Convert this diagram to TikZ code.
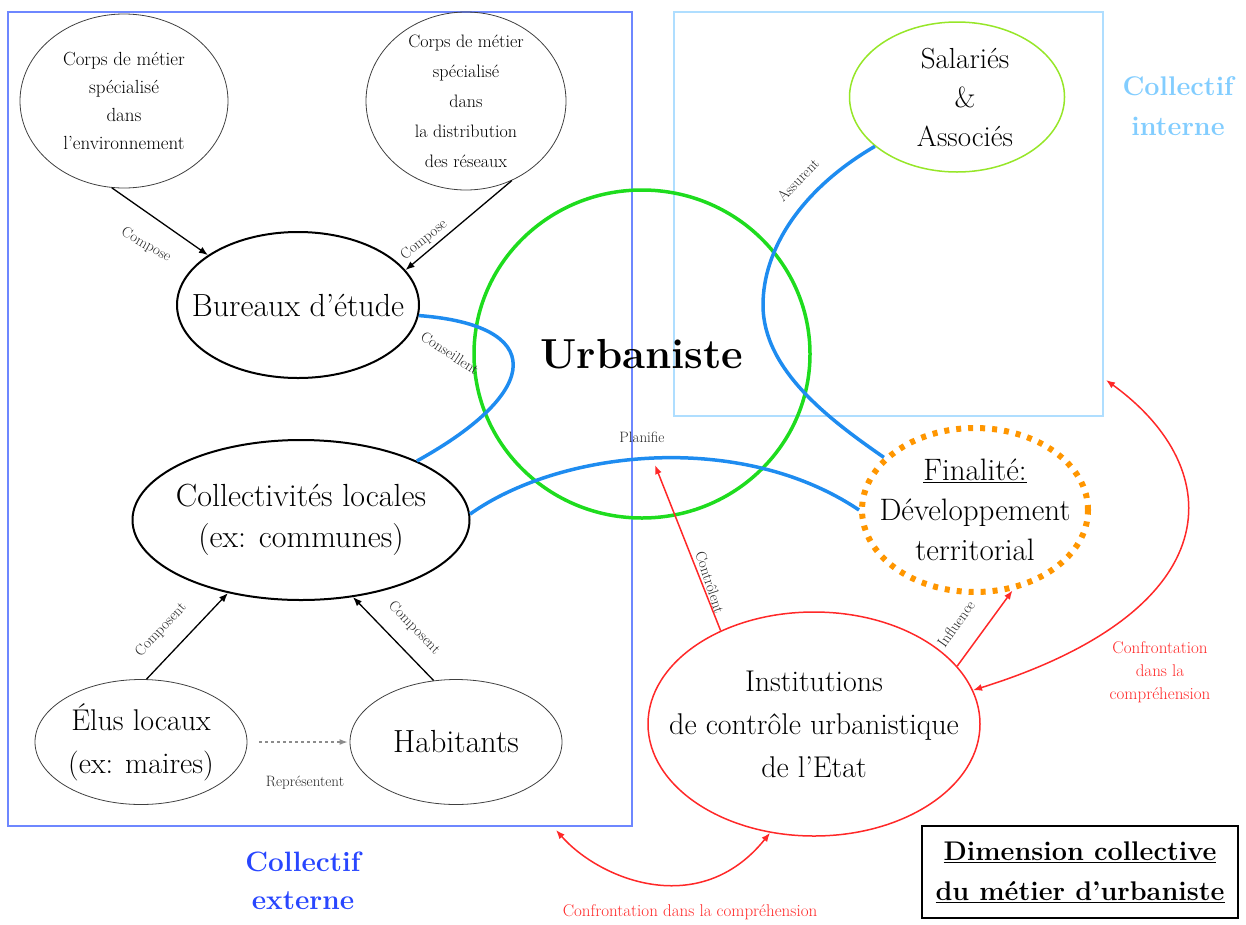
\documentclass[tikz,border=0pt]{standalone}
\usetikzlibrary{arrows.meta,shapes.geometric}
\definecolor{extblue}{RGB}{110,135,255}
\definecolor{intblue}{RGB}{175,222,255}
\definecolor{exttext}{RGB}{40,70,255}
\definecolor{inttext}{RGB}{130,205,255}
\definecolor{urbgreen}{RGB}{30,220,30}
\definecolor{salgreen}{RGB}{150,230,40}
\definecolor{linkblue}{RGB}{30,140,240}
\definecolor{linkred}{RGB}{255,40,40}
\definecolor{finorange}{RGB}{255,150,0}
\newcommand\setfs[2]{\fontsize{#1}{#2}\selectfont}
\tikzset{
  oval/.style={ellipse, draw, inner sep=0pt},
  lab/.style={align=center, inner sep=0pt, text=black},
  thinoval/.style={oval, draw=black!75, line width=0.8pt},
  boldoval/.style={oval, draw=black, line width=2pt},
  blacklink/.style={draw=black, line width=1.3pt, -{Latex[length=9pt,width=7pt]}},
  bluelink/.style={draw=linkblue, line width=3.5pt},
  redlink/.style={draw=linkred, line width=1.5pt, -{Latex[length=9pt,width=7pt]}},
  redtwo/.style={draw=linkred, line width=1.5pt, {Latex[length=9pt,width=7pt]}-{Latex[length=9pt,width=7pt]}},
  lbl/.style={font=\setfs{15}{17}, text=black!85, inner sep=0pt},
  redlbl/.style={font=\setfs{17}{23}, text=linkred, align=center, inner sep=0pt},
}
\begin{document}
\begin{tikzpicture}[x=1pt,y=-1pt]
\useasboundingbox (0,0) rectangle (1246,924);
% frames
\node[draw=extblue, line width=2pt, minimum width=624pt, minimum height=814pt, inner sep=0pt] (ext) at (320,419) {};
\node[draw=intblue, line width=2pt, minimum width=429pt, minimum height=404pt, inner sep=0pt] (int) at (888.5,214) {};
\node[font=\bfseries\setfs{28}{38}, text=exttext, align=center] (extlbl) at (303,881) {Collectif\\externe};
\node[font=\bfseries\setfs{27}{40}, text=inttext, align=center] (intlbl) at (1178,106) {Collectif\\interne};
% nodes
\node[thinoval, minimum width=208pt, minimum height=174pt,
  label={[lab, font=\setfs{19}{28}]center:Corps de métier\\spécialisé\\dans\\l'environnement}] (env) at (124,101) {};
\node[thinoval, minimum width=200pt, minimum height=178pt,
  label={[lab, font=\setfs{18}{30}]center:Corps de métier\\spécialisé\\dans\\la distribution\\des réseaux}] (res) at (466,101) {};
\node[boldoval, minimum width=242pt, minimum height=146pt,
  label={[lab, font=\setfs{32}{38}]center:Bureaux d'étude}] (bur) at (298,305) {};
\node[oval, draw=urbgreen, line width=3.5pt, minimum width=336pt, minimum height=328pt,
  label={[lab, font=\bfseries\setfs{42}{48}]center:Urbaniste}] (urb) at (642,354) {};
\node[oval, draw=salgreen, line width=1.5pt, minimum width=215pt, minimum height=150pt,
  label={[lab, font=\setfs{29}{39}, xshift=8pt]center:Salariés\\\&\\Associés}] (sal) at (957,97) {};
\node[boldoval, minimum width=337pt, minimum height=160pt,
  label={[lab, font=\setfs{32}{41}]center:Collectivités locales\\(ex: communes)}] (col) at (301,520) {};
\node[thinoval, minimum width=212pt, minimum height=125pt,
  label={[lab, font=\setfs{30}{43}]center:Élus locaux\\(ex: maires)}] (elu) at (141,742) {};
\node[thinoval, minimum width=212pt, minimum height=125pt,
  label={[lab, font=\setfs{32}{38}]center:Habitants}] (hab) at (456,742) {};
\node[oval, draw=finorange, line width=6pt, dash pattern=on 5pt off 7pt, minimum width=226pt, minimum height=164pt,
  label={[lab, font=\setfs{31}{40}]center:\underline{Finalité:}\\Développement\\territorial}] (fin) at (975,510) {};
\node[oval, draw=linkred, line width=1.5pt, minimum width=332pt, minimum height=224pt,
  label={[lab, font=\setfs{30}{43}]center:Institutions\\de contrôle urbanistique\\de l'Etat}] (ins) at (814,724) {};
\node[draw=black, line width=1.5pt, minimum width=316pt, minimum height=92pt, inner sep=0pt, align=center, font=\bfseries\setfs{27}{40}] (dim) at (1080,872)
  {\underline{Dimension collective}\\\underline{du métier d'urbaniste}};
% free ends
\coordinate (ctip) at (655,465);
\coordinate (cright) at (1106,380);
\coordinate (cbottom) at (556,830);
% black links
\draw[blacklink] (env.262) -- (bur.151);
\draw[blacklink] (res.300) -- (bur.18);
\draw[blacklink] (elu.85) -- (col.225);
\draw[blacklink] (hab.110) -- (col.304);
\draw[draw=black!45, line width=1.2pt, dashed, -{Latex[length=8pt,width=6pt]}, shorten <=12pt, shorten >=2pt] (elu.0) -- (hab.180);
% blue links
\draw[bluelink] (bur.-5) .. controls (545,325) and (545,390) .. (col.27);
\draw[bluelink] (sal.211) .. controls (800,190) and (763,250) .. (763,305) .. controls (763,370) and (830,420) .. (fin.150);
\draw[bluelink] (col.2) .. controls (560,450) and (740,430) .. (fin.180);
% red links
\draw[redlink] (ins.135) -- (ctip);
\draw[redlink] (ins.22) -- (fin.295);
\draw[redtwo] (cright) .. controls (1230,470) and (1230,610) .. (ins.12);
\draw[redtwo] (cbottom) .. controls (600,880) and (700,920) .. (ins.248);
% labels
\node[lbl, rotate=-30] (l1) at (146,245) {Compose};
\node[lbl, rotate=39] (l2) at (424,240) {Compose};
\node[lbl, rotate=-33] (l3) at (450,353) {Conseillent};
\node[lbl, rotate=47] (l4) at (161,630) {Composent};
\node[lbl, rotate=-46] (l5) at (414,628) {Composent};
\node[lbl] (l6) at (305,783) {Représentent};
\node[lbl] (l7) at (642,437) {Planifie};
\node[lbl, rotate=46] (l8) at (798,180) {Assurent};
\node[lbl, rotate=-72] (l9) at (710,582) {Contrôlent};
\node[lbl, rotate=55] (l10) at (956,624) {Influence};
\node[redlbl] (l11) at (1160,672) {Confrontation\\dans la\\compréhension};
\node[redlbl] (l12) at (690,912) {Confrontation dans la compréhension};
\end{tikzpicture}
\end{document}
